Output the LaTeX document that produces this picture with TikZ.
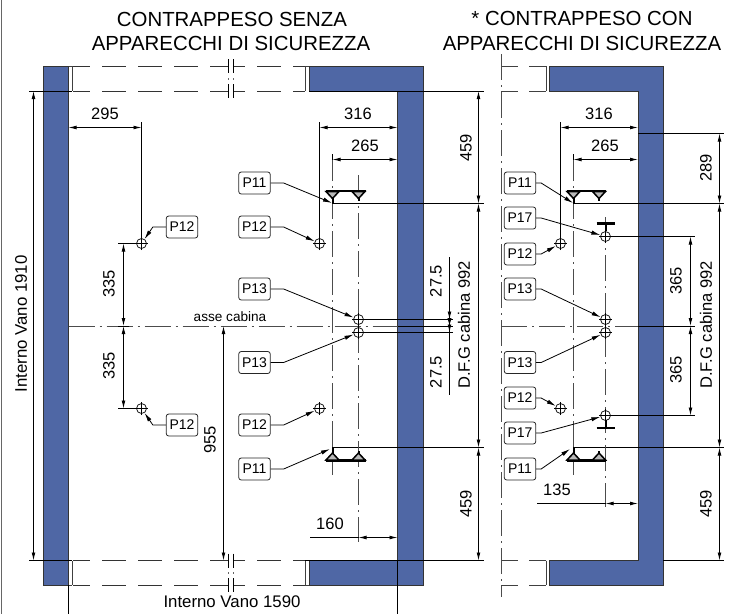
\documentclass[tikz,border=0pt]{standalone}
\usepackage{fontspec}
\setmainfont{Liberation Sans}
\usetikzlibrary{arrows.meta}
\definecolor{wallblue}{HTML}{4F67A5}
\definecolor{railgray}{HTML}{B8B8B8}
\newcommand{\fsz}[1]{\fontsize{#1}{#1}\selectfont}
\tikzset{
  x=1pt,y=-1pt,
  thinline/.style={line width=0.8pt,black},
  wall/.style={fill=wallblue,draw=black!80,line width=0.6pt},
  slit/.style={line width=0.8pt,black!75},
  breakline/.style={line width=0.8pt,black!80,dash pattern=on 24pt off 12pt},
  centre/.style={line width=0.8pt,black!70,dash pattern=on 26pt off 5pt on 2pt off 5pt},
  dimline/.style={line width=0.8pt,black},
  dimboth/.style={dimline,{Latex[length=8pt,width=3.8pt]}-{Latex[length=8pt,width=3.8pt]}},
  tag/.style={draw=black!85,line width=0.8pt,rounded corners=2.5pt,minimum width=31.5pt,minimum height=22pt,inner sep=0pt,font=\fsz{14}},
  leader/.style={line width=0.8pt,black,-{Latex[length=9pt,width=4.2pt]}},
  hole/.style={circle,draw=black,line width=0.7pt,minimum size=10pt,inner sep=0pt},
  dimtext/.style={inner sep=0pt,font=\fsz{16.5}},
  vtext/.style={dimtext,rotate=90},
  title/.style={inner sep=0pt,font=\fsz{20.4}},
  railbar/.style={line width=2.2pt,black},
  railtri/.style={fill=railgray,draw=black,line width=1.5pt,line join=miter},
}
\newcommand{\holeat}[2]{\node[hole] (#1) at (#2) {};
  \draw[line width=0.7pt,black] ([xshift=-6.5pt]#1.center) -- ([xshift=6.5pt]#1.center) ([yshift=-6.5pt]#1.center) -- ([yshift=6.5pt]#1.center);}
\newcommand{\railtop}[2]{% first x, second x
  \draw[railbar] (#1-7,191) -- (#2+7,191);
  \draw[railtri] (#1-6.5,191.5) -- (#1+6.5,191.5) -- (#1,198.5) -- cycle;
  \draw[railtri] (#2-6.5,191.5) -- (#2+6.5,191.5) -- (#2,198.5) -- cycle;
  \draw[line width=2pt] (#1,198) -- (#1,203.5);
  \draw[line width=2pt] (#2,198) -- (#2,201);}
\newcommand{\railbot}[2]{%
  \draw[railbar] (#1-7,460.5) -- (#2+7,460.5);
  \draw[railtri] (#1-6.5,460) -- (#1+6.5,460) -- (#1,453) -- cycle;
  \draw[railtri] (#2-6.5,460) -- (#2+6.5,460) -- (#2,453) -- cycle;
  \draw[line width=2pt] (#1,453.5) -- (#1,447.5);
  \draw[line width=2pt] (#2,453.5) -- (#2,450.5);}
\begin{document}
\begin{tikzpicture}
\useasboundingbox (0,0) rectangle (742,614);
% frame line
\draw[line width=1pt,black!60] (1.5,0) -- (1.5,614);
% titles
\node[title] (t1) at (232,19) {CONTRAPPESO SENZA};
\node[title] (t2) at (231,43) {APPARECCHI DI SICUREZZA};
\node[title] (t3) at (582,18) {* CONTRAPPESO CON};
\node[title] (t4) at (582,43) {APPARECCHI DI SICUREZZA};
% walls, left plan
\filldraw[wall] (43.5,66) rectangle (68.5,585);
\filldraw[wall] (309,66) -- (423,66) -- (423,585) -- (309,585) -- (309,560.5) -- (397.5,560.5) -- (397.5,91) -- (309,91) -- cycle;
% walls, right plan
\filldraw[wall] (549,66) -- (663,66) -- (663,585) -- (549,585) -- (549,560.5) -- (638,560.5) -- (638,91) -- (549,91) -- cycle;
% slits
\draw[slit] (72,66) -- (72,91) (72,560.5) -- (72,585) (305,66) -- (305,91) (305,560.5) -- (305,585) (546,66) -- (546,91) (546,560.5) -- (546,585);
\draw[slit] (68.5,66) -- (72,66) (68.5,585) -- (72,585) (305,66) -- (309,66) (305,585) -- (309,585);
% broken walls
\foreach \yy in {66,91,560.5,585}{
  \draw[breakline,dash phase=7pt] (73,\yy) -- (228,\yy);
  \draw[breakline,dash phase=12pt] (233,\yy) -- (305,\yy);
  \draw[thinline] (228.5,\yy-7) -- (228.5,\yy+7) (233.5,\yy-7) -- (233.5,\yy+7);
  \draw[slit] (501,\yy) -- (518,\yy) (529,\yy) -- (546,\yy);
}
\draw[line width=0.6pt,black!60] (228.5,78) -- (228.5,80) (233.5,78) -- (233.5,80) (228.5,572) -- (228.5,574) (233.5,572) -- (233.5,574);
% cut centre
\draw[centre] (501.5,54) -- (501.5,597);
% long reference lines
\draw[thinline] (29,91) -- (72,91) (29,560.5) -- (72,560.5);
\draw[thinline] (309,91) -- (484,91) (305,560.5) -- (484,560.5);
\draw[line width=1pt,black] (332,203.5) -- (484,203.5) (332,447.5) -- (484,447.5);
\draw[line width=1pt,black] (573,203.5) -- (724,203.5) (573,447.5) -- (724,447.5);
\draw[thinline] (638,133.5) -- (724,133.5) (663,560.5) -- (724,560.5);
\draw[thinline] (68.5,585) -- (68.5,614) (397.5,560.5) -- (397.5,614);
% coordinates of the dimension ends
\coordinate (a1) at (33.5,91); \coordinate (a2) at (33.5,560.5);
\draw[dimboth] (a1) -- (a2);
\node[vtext] (v1910) at (21,324) {\fsz{16.8}Interno Vano 1910};
\node[dimtext] (v1590) at (232,602) {\fsz{16.8}Interno Vano 1590};
% centre lines
\draw[centre] (68.5,326) -- (397.5,326);
\draw[centre] (332.5,155) -- (332.5,475);
\draw[centre] (358.5,175) -- (358.5,542);
\draw[centre] (501,326) -- (638,326);
\draw[centre] (573.5,155) -- (573.5,475);
\draw[centre] (605.5,217) -- (605.5,507);
\draw[line width=1pt,black] (397.5,326) -- (453,326) (638,326) -- (695,326);
% holes
\holeat{hA}{141.5,243.5}
\holeat{hB}{141.5,408.5}
\holeat{hC}{319.5,243.5}
\holeat{hD}{319.5,408.5}
\holeat{hE}{358.5,319.5}
\holeat{hF}{358.5,332.5}
\holeat{hG}{560.5,243.5}
\holeat{hH}{560.5,408.5}
\holeat{hI}{605.5,319.5}
\holeat{hJ}{605.5,332.5}
\holeat{hK}{605.5,236.5}
\holeat{hL}{605.5,415.5}
% T rails
\draw[line width=2.4pt] (596.5,223.5) -- (614.5,223.5);
\draw[line width=2pt] (605.5,224) -- (605.5,231);
\draw[line width=2.4pt] (596.5,428) -- (614.5,428);
\draw[line width=2pt] (605.5,420) -- (605.5,428);
% V rails
\railtop{332.5}{358.5}
\railbot{332.5}{358.5}
\railtop{573.5}{599}
\railbot{573.5}{599}
\coordinate (r1) at (332,203);
\coordinate (r2) at (330,449);
\coordinate (r3) at (573,203);
\coordinate (r4) at (570,449);
% dimensions left plan
\draw[thinline] (141.5,122) -- (hA.center);
\draw[thinline] (319.5,122) -- (hC.center);
\draw[thinline] (560.5,122) -- (hG.center);
\draw[thinline] (332.5,154) -- (332.5,160);
\draw[thinline] (118,243.5) -- (hA.west) (118,408.5) -- (hB.west);
\draw[dimboth] (68.5,127.5) -- (141.5,127.5);
\node[dimtext] (d295) at (105,114) {295};
\draw[dimboth] (319.5,127.5) -- (397.5,127.5);
\node[dimtext] (d316) at (358,114) {316};
\draw[dimboth] (332.5,159.5) -- (397.5,159.5);
\node[dimtext] (d265) at (365,146) {265};
\draw[dimboth] (123.5,243.5) -- (123.5,326);
\draw[dimboth] (123.5,326) -- (123.5,408.5);
\node[vtext] (d335a) at (109,284) {335};
\node[vtext] (d335b) at (109,366) {335};
\draw[thinline] (118,326) -- (129,326);
\draw[dimboth] (223.5,326) -- (223.5,560.5);
\node[vtext] (d955) at (210,440) {955};
\node[inner sep=0pt,font=\fsz{13.6}] (axis) at (230,317) {asse cabina};
\draw[dimboth] (358.5,537.5) -- (397.5,537.5);
\draw[thinline] (310,537.5) -- (358.5,537.5);
\node[dimtext] (d160) at (330,524) {160};
\draw[dimboth] (478.5,91) -- (478.5,203.5);
\draw[dimboth] (478.5,203.5) -- (478.5,447.5);
\draw[dimboth] (478.5,447.5) -- (478.5,560.5);
\node[vtext] (d459a) at (466,148) {459};
\node[vtext] (d459b) at (466,504) {459};
\node[vtext] (dfg1) at (464,325) {D.F.G cabina 992};
\node[vtext] (d27a) at (436,281) {27.5};
\node[vtext] (d27b) at (436,372) {27.5};
\draw[thinline] (449.5,257) -- (449.5,395);
\draw[dimboth] (449.5,319.5) -- (449.5,326);
\draw[dimboth] (449.5,326) -- (449.5,332.5);
\draw[thinline] (hE.east) -- (453,319.5) (hF.east) -- (453,332.5);
% dimensions right plan
\draw[dimboth] (560.5,127.5) -- (638,127.5);
\node[dimtext] (e316) at (599,114) {316};
\draw[dimboth] (573.5,159.5) -- (638,159.5);
\node[dimtext] (e265) at (605,146) {265};
\draw[thinline] (573.5,154) -- (573.5,160);
\draw[dimboth] (719.5,133.5) -- (719.5,203.5);
\draw[dimboth] (719.5,203.5) -- (719.5,447.5);
\draw[dimboth] (719.5,447.5) -- (719.5,560.5);
\node[vtext] (e289) at (706,168) {289};
\node[vtext] (dfg2) at (706,325) {D.F.G cabina 992};
\node[vtext] (e459) at (706,504) {459};
\draw[thinline] (hK.east) -- (695,236.5) (hL.east) -- (695,415.5);
\draw[dimboth] (690.5,236.5) -- (690.5,326);
\draw[dimboth] (690.5,326) -- (690.5,415.5);
\node[vtext] (e365a) at (676,281) {365};
\node[vtext] (e365b) at (676,370) {365};
\draw[thinline] (537,503.5) -- (605.5,503.5);
\draw[dimboth] (605.5,503.5) -- (638,503.5);
\node[dimtext] (e135) at (557,490) {135};
% tags
\node[tag] (p1) at (182,227) {P12};
\node[tag] (p2) at (182,425) {P12};
\node[tag] (p3) at (254.5,183) {P11};
\node[tag] (p4) at (254.5,227) {P12};
\node[tag] (p5) at (254.5,289) {P13};
\node[tag] (p6) at (254.5,362.5) {P13};
\node[tag] (p7) at (254.5,425) {P12};
\node[tag] (p8) at (254.5,469) {P11};
\node[tag] (q1) at (520,183) {P11};
\node[tag] (q2) at (520,218) {P17};
\node[tag] (q3) at (520,254) {P12};
\node[tag] (q4) at (520,289) {P13};
\node[tag] (q5) at (520,362.5) {P13};
\node[tag] (q6) at (520,398) {P12};
\node[tag] (q7) at (520,433) {P17};
\node[tag] (q8) at (520,469) {P11};
% leaders
\draw[leader] (p1.west) -- ++(-13,0) -- (hA);
\draw[leader] (p2.west) -- ++(-13,0) -- (hB);
\draw[leader] (p3.east) -- ++(13,0) -- (r1);
\draw[leader] (p4.east) -- ++(13,0) -- (hC);
\draw[leader] (p5.east) -- ++(13,0) -- (hE);
\draw[leader] (p6.east) -- ++(13,0) -- (hF);
\draw[leader] (p7.east) -- ++(13,0) -- (hD);
\draw[leader] (p8.east) -- ++(13,0) -- (r2);
\draw[leader] (q1.east) -- ++(5,0) -- (r3);
\draw[leader] (q2.east) -- ++(5,0) -- (hK);
\draw[leader] (q3.east) -- ++(5,0) -- (hG);
\draw[leader] (q4.east) -- ++(5,0) -- (hI);
\draw[leader] (q5.east) -- ++(5,0) -- (hJ);
\draw[leader] (q6.east) -- ++(5,0) -- (hH);
\draw[leader] (q7.east) -- ++(5,0) -- (hL);
\draw[leader] (q8.east) -- ++(5,0) -- (r4);
\end{tikzpicture}
\end{document}
